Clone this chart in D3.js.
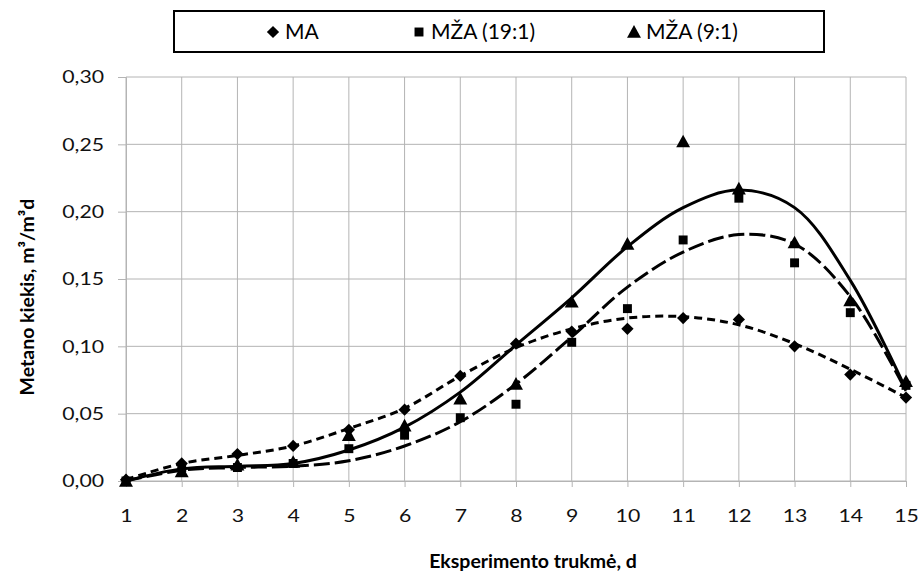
<!DOCTYPE html>
<html>
<head>
<meta charset="utf-8">
<script src="https://cdn.jsdelivr.net/npm/d3@7"></script>
<style>
  body { margin: 0; background: #fff; }
  svg { display: block; font-family: Lato, "Open Sans", sans-serif; }
  .tick text { transform-box: fill-box; transform: scaleX(1.18); }
  .y-axis .tick text { transform-origin: right center; }
  .x-axis .tick text { transform-origin: center center; }
</style>
</head>
<body>
<svg id="chart" width="919" height="571"></svg>
<script>
// days of the experiment
var days = [1, 2, 3, 4, 5, 6, 7, 8, 9, 10, 11, 12, 13, 14, 15];
var yTicks = [0, 0.05, 0.10, 0.15, 0.20, 0.25, 0.30];

// measured points
var maValues   = [0.001, 0.013, 0.020, 0.026, 0.038, 0.053, 0.078, 0.102, 0.111, 0.113, 0.121, 0.120, 0.100, 0.079, 0.062];
var mza19Values = [0.000, 0.010, 0.010, 0.013, 0.024, 0.034, 0.047, 0.057, 0.103, 0.128, 0.179, 0.210, 0.162, 0.125, 0.071];
var mza9Values  = [0.000, 0.007, 0.012, 0.014, 0.034, 0.041, 0.061, 0.072, 0.133, 0.176, 0.252, 0.217, 0.177, 0.134, 0.074];

// trend lines
var maTrend   = [0.001, 0.013, 0.019, 0.026, 0.039, 0.054, 0.078, 0.099, 0.113, 0.121, 0.122, 0.116, 0.102, 0.083, 0.062];
var mza19Trend = [0.000, 0.008, 0.010, 0.011, 0.015, 0.026, 0.044, 0.072, 0.107, 0.144, 0.170, 0.183, 0.176, 0.137, 0.067];
var mza9Trend  = [0.000, 0.009, 0.011, 0.013, 0.023, 0.040, 0.066, 0.101, 0.136, 0.174, 0.203, 0.216, 0.203, 0.149, 0.068];

var seriesNames = ["MA", "MŽA (19:1)", "MŽA (9:1)"];

var svg = d3.select("#chart"),
    margin = {top: 77, right: 13, bottom: 90, left: 126},
    width = +svg.attr("width") - margin.left - margin.right,
    height = +svg.attr("height") - margin.top - margin.bottom;

var g = svg.append("g").attr("transform", "translate(" + margin.left + "," + margin.top + ")");

var x = d3.scaleLinear().domain([1, 15]).range([0, width]);
var y = d3.scaleLinear().domain([0, 0.30]).range([height, 0]);

var gridColor = "#b4b4b4";

// custom symbols
var diamond = {
  draw: function(ctx, size) {
    var r = Math.sqrt(size) / 2;
    ctx.moveTo(0, -r); ctx.lineTo(r, 0); ctx.lineTo(0, r); ctx.lineTo(-r, 0); ctx.closePath();
  }
};
var triangle = {
  draw: function(ctx, size) {
    var s = Math.sqrt(size);
    ctx.moveTo(0, -s * 0.55); ctx.lineTo(s * 0.55, s * 0.45); ctx.lineTo(-s * 0.55, s * 0.45); ctx.closePath();
  }
};

var series = [
  {name: seriesNames[0], values: maValues, trend: maTrend, symbol: diamond, size: 150, dash: "8,5"},
  {name: seriesNames[1], values: mza19Values, trend: mza19Trend, symbol: d3.symbolSquare, size: 80, dash: "16,5"},
  {name: seriesNames[2], values: mza9Values, trend: mza9Trend, symbol: triangle, size: 160, dash: null}
];

// grid
g.append("g")
    .selectAll("line")
    .data(yTicks)
  .enter().append("line")
    .attr("x1", 0).attr("x2", width)
    .attr("y1", function(d) { return y(d); })
    .attr("y2", function(d) { return y(d); })
    .attr("stroke", gridColor);

g.append("g")
    .selectAll("line")
    .data(days)
  .enter().append("line")
    .attr("x1", function(d) { return x(d); })
    .attr("x2", function(d) { return x(d); })
    .attr("y1", 0).attr("y2", height)
    .attr("stroke", gridColor);

// axes
var yAxis = g.append("g")
    .attr("class", "y-axis")
    .call(d3.axisLeft(y).tickValues(yTicks).tickSize(8).tickPadding(14)
      .tickFormat(function(d) { return d.toFixed(2).replace(".", ","); }));

var xAxis = g.append("g")
    .attr("class", "x-axis")
    .attr("transform", "translate(0," + height + ")")
    .call(d3.axisBottom(x).tickValues(days).tickSize(6).tickPadding(22)
      .tickFormat(function(d) { return d; }));

[yAxis, xAxis].forEach(function(a) {
  a.selectAll("path, line").attr("stroke", gridColor);
  a.selectAll("text").attr("fill", "#111").style("font-size", "18px");
  a.attr("font-family", null);
});

// trend lines
var line = d3.line()
    .x(function(d, i) { return x(days[i]); })
    .y(function(d) { return y(d); })
    .curve(d3.curveCatmullRom.alpha(0.5));

series.forEach(function(s) {
  g.append("path")
      .datum(s.trend)
      .attr("fill", "none")
      .attr("stroke", "#000")
      .attr("stroke-width", 3)
      .attr("stroke-dasharray", s.dash)
      .attr("d", line);
});

// markers
series.forEach(function(s) {
  g.append("g")
    .selectAll("path")
    .data(s.values)
  .enter().append("path")
    .attr("transform", function(d, i) { return "translate(" + x(days[i]) + "," + y(d) + ")"; })
    .attr("d", d3.symbol().type(s.symbol).size(s.size))
    .attr("fill", "#000");
});

// axis titles
svg.append("text")
    .attr("x", 533)
    .attr("y", 561)
    .attr("dy", "0.35em")
    .attr("text-anchor", "middle")
    .style("font-size", "19.5px")
    .style("font-weight", "bold")
    .text("Eksperimento trukmė, d");

svg.append("text")
    .attr("transform", "translate(27,297) rotate(-90)")
    .attr("dy", "0.35em")
    .attr("text-anchor", "middle")
    .style("font-size", "19.5px")
    .style("font-weight", "bold")
    .text("Metano kiekis, m³/m³d");

// legend
var legend = svg.append("g");
legend.append("rect")
    .attr("x", 174).attr("y", 11)
    .attr("width", 650).attr("height", 41)
    .attr("fill", "#fff")
    .attr("stroke", "#000")
    .attr("stroke-width", 2);

var legendX = [273, 419, 634];
series.forEach(function(s, i) {
  legend.append("path")
      .attr("transform", "translate(" + legendX[i] + ",32)")
      .attr("d", d3.symbol().type(s.symbol).size(s.size))
      .attr("fill", "#000");
  legend.append("text")
      .attr("x", legendX[i] + 12)
      .attr("y", 32)
      .attr("dy", "0.35em")
      .style("font-size", "21px")
      .text(s.name);
});
</script>
</body>
</html>
